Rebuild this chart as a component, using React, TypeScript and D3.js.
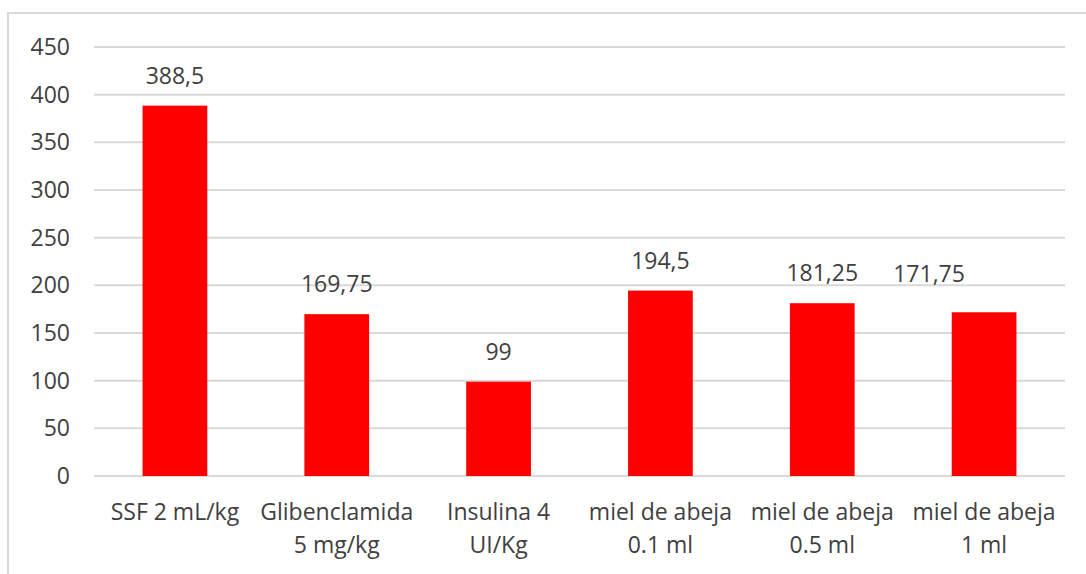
import React, { useEffect, useRef } from "react";
import * as d3 from "d3";

const categories = [
  "SSF 2 mL/kg",
  "Glibenclamida 5 mg/kg",
  "Insulina 4 UI/Kg",
  "miel de abeja 0.1 ml",
  "miel de abeja 0.5 ml",
  "miel de abeja 1 ml",
];
const categoryLines = [
  ["SSF 2 mL/kg"],
  ["Glibenclamida", "5 mg/kg"],
  ["Insulina 4", "UI/Kg"],
  ["miel de abeja", "0.1 ml"],
  ["miel de abeja", "0.5 ml"],
  ["miel de abeja", "1 ml"],
];
const values = [388.5, 169.75, 99, 194.5, 181.25, 171.75];
const valueLabels = ["388,5", "169,75", "99", "194,5", "181,25", "171,75"];
const yTicks = [0, 50, 100, 150, 200, 250, 300, 350, 400, 450];

function App() {
  const svgRef = useRef(null);

  useEffect(() => {
    const W = 1086;
    const H = 574;
    const margin = { top: 47, right: 21, bottom: 98, left: 94 };
    const width = W - margin.left - margin.right;
    const height = H - margin.top - margin.bottom;
    const font = "'Open Sans', sans-serif";
    const textColor = "#404040";

    const root = d3.select(svgRef.current);
    root.selectAll("*").remove();
    root.attr("width", W).attr("height", H);

    // chart area border (runs off right and bottom)
    root
      .append("rect")
      .attr("x", 8)
      .attr("y", 13)
      .attr("width", 1200)
      .attr("height", 700)
      .attr("fill", "#fff")
      .attr("stroke", "#d9d9d9")
      .attr("stroke-width", 2);

    const svg = root
      .append("g")
      .attr("transform", `translate(${margin.left}, ${margin.top})`);

    const x = d3
      .scaleBand()
      .domain(categories)
      .range([0, width])
      .paddingInner(0.6)
      .paddingOuter(0.3);

    const y = d3.scaleLinear().domain([0, 450]).range([height, 0]);

    // gridlines
    svg
      .append("g")
      .selectAll("line")
      .data(yTicks)
      .enter()
      .append("line")
      .attr("x1", 0)
      .attr("x2", width)
      .attr("y1", (d) => y(d))
      .attr("y2", (d) => y(d))
      .attr("stroke", "#d9d9d9")
      .attr("stroke-width", 2);

    // y tick labels
    svg
      .append("g")
      .selectAll("text")
      .data(yTicks)
      .enter()
      .append("text")
      .attr("x", -24)
      .attr("y", (d) => y(d) + 8)
      .attr("text-anchor", "end")
      .style("font-family", font)
      .style("font-size", "23px")
      .style("fill", textColor)
      .text((d) => d);

    // bars
    svg
      .append("g")
      .selectAll("rect")
      .data(values)
      .enter()
      .append("rect")
      .attr("x", (d, i) => x(categories[i]))
      .attr("y", (d) => y(d))
      .attr("width", x.bandwidth())
      .attr("height", (d) => height - y(d))
      .attr("fill", "#ff0000");

    // data labels (the last one was nudged left in the original)
    svg
      .append("g")
      .selectAll("text")
      .data(values)
      .enter()
      .append("text")
      .attr("x", (d, i) => {
        const cx = x(categories[i]) + x.bandwidth() / 2;
        return i === values.length - 1 ? cx - 55 : cx;
      })
      .attr("y", (d, i) =>
        i === values.length - 1 ? y(values[i - 1]) - 21 : y(d) - 22
      )
      .attr("text-anchor", "middle")
      .style("font-family", font)
      .style("font-size", "23px")
      .style("fill", textColor)
      .text((d, i) => valueLabels[i]);

    // category labels
    const cat = svg
      .append("g")
      .selectAll("text")
      .data(categoryLines)
      .enter()
      .append("text")
      .attr("text-anchor", "middle")
      .style("font-family", font)
      .style("font-size", "23px")
      .style("fill", textColor);

    cat
      .selectAll("tspan")
      .data((d, i) => d.map((line) => ({ line, i })))
      .enter()
      .append("tspan")
      .attr("x", (d) => x(categories[d.i]) + x.bandwidth() / 2)
      .attr("y", (d, j) => height + 44 + j * 33)
      .text((d) => d.line);
  }, []);

  return (
    <svg
      ref={svgRef}
      style={{ position: "absolute", left: 0, top: 0, display: "block" }}
    ></svg>
  );
}

export default App;
